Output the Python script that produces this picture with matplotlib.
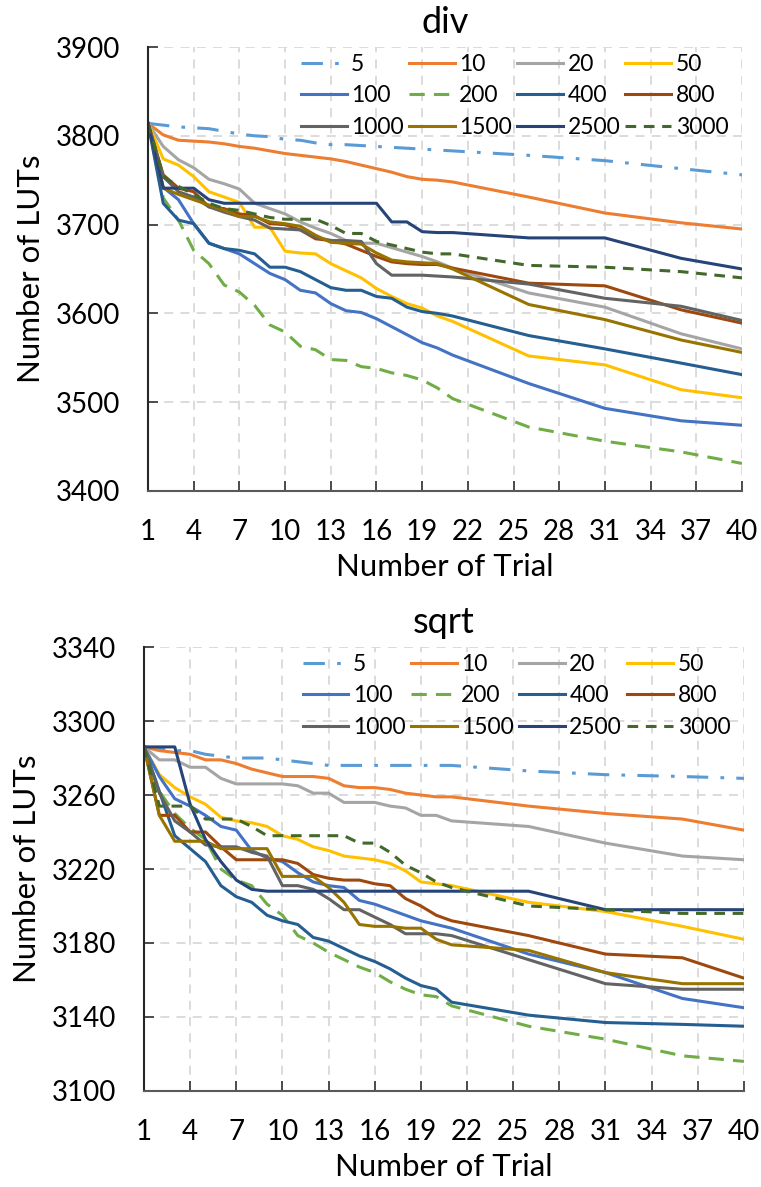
import matplotlib
matplotlib.use("Agg")
import matplotlib.pyplot as plt

plt.rcParams["font.family"] = ["Lato", "DejaVu Sans"]

trials = list(range(1, 22)) + [26, 31, 36, 40]
labels = ["5", "10", "20", "50", "100", "200", "400", "800", "1000", "1500", "2500", "3000"]

# number of LUTs after each trial, one list per setting (div)
div_5 = [3814, 3812, 3810, 3809, 3808, 3805, 3802, 3800, 3799, 3796, 3795, 3792, 3790, 3790, 3789, 3788, 3787, 3786, 3785, 3784, 3783, 3778, 3772, 3763, 3756]
div_10 = [3814, 3801, 3795, 3794, 3793, 3791, 3788, 3786, 3783, 3780, 3778, 3776, 3774, 3771, 3767, 3763, 3759, 3754, 3751, 3750, 3748, 3731, 3713, 3702, 3695]
div_20 = [3814, 3788, 3773, 3764, 3751, 3746, 3740, 3724, 3718, 3712, 3703, 3696, 3690, 3682, 3679, 3679, 3674, 3669, 3664, 3658, 3651, 3623, 3607, 3577, 3560]
div_50 = [3814, 3774, 3767, 3754, 3737, 3731, 3725, 3697, 3697, 3670, 3668, 3667, 3656, 3648, 3640, 3628, 3619, 3611, 3606, 3597, 3591, 3552, 3542, 3514, 3505]
div_100 = [3814, 3742, 3728, 3701, 3679, 3673, 3667, 3656, 3645, 3638, 3626, 3623, 3611, 3603, 3601, 3594, 3585, 3576, 3567, 3561, 3553, 3521, 3493, 3479, 3474]
div_200 = [3814, 3730, 3705, 3671, 3656, 3632, 3624, 3609, 3587, 3579, 3563, 3559, 3548, 3547, 3540, 3538, 3533, 3530, 3525, 3516, 3504, 3472, 3456, 3444, 3431]
div_400 = [3814, 3724, 3705, 3701, 3679, 3673, 3671, 3667, 3652, 3652, 3647, 3638, 3629, 3626, 3626, 3619, 3617, 3607, 3602, 3600, 3597, 3575, 3560, 3544, 3531]
div_800 = [3814, 3756, 3741, 3737, 3720, 3718, 3712, 3710, 3701, 3700, 3694, 3684, 3682, 3678, 3671, 3664, 3658, 3656, 3655, 3655, 3651, 3634, 3631, 3604, 3589]
div_1000 = [3814, 3754, 3737, 3731, 3720, 3714, 3709, 3705, 3696, 3695, 3694, 3686, 3682, 3682, 3681, 3656, 3643, 3643, 3643, 3642, 3641, 3633, 3617, 3608, 3592]
div_1500 = [3814, 3741, 3734, 3728, 3722, 3716, 3709, 3709, 3703, 3701, 3698, 3688, 3680, 3679, 3678, 3668, 3660, 3658, 3657, 3656, 3650, 3610, 3593, 3570, 3556]
div_2500 = [3814, 3741, 3741, 3741, 3728, 3724, 3724, 3724, 3724, 3724, 3724, 3724, 3724, 3724, 3724, 3724, 3703, 3703, 3692, 3691, 3691, 3685, 3685, 3662, 3650]
div_3000 = [3814, 3754, 3743, 3734, 3724, 3718, 3716, 3712, 3708, 3706, 3706, 3706, 3699, 3690, 3690, 3681, 3677, 3673, 3669, 3667, 3667, 3654, 3652, 3647, 3640]

# number of LUTs after each trial (sqrt)
sqrt_5 = [3286, 3285, 3284, 3284, 3282, 3281, 3280, 3280, 3280, 3279, 3278, 3277, 3276, 3276, 3276, 3276, 3276, 3276, 3276, 3276, 3276, 3273, 3271, 3270, 3269]
sqrt_10 = [3286, 3284, 3283, 3282, 3279, 3279, 3277, 3274, 3272, 3270, 3270, 3270, 3269, 3265, 3264, 3264, 3263, 3261, 3260, 3259, 3259, 3254, 3250, 3247, 3241]
sqrt_20 = [3286, 3279, 3279, 3275, 3275, 3269, 3266, 3266, 3266, 3266, 3265, 3261, 3261, 3256, 3256, 3256, 3254, 3253, 3249, 3249, 3246, 3243, 3234, 3227, 3225]
sqrt_50 = [3286, 3271, 3264, 3259, 3255, 3248, 3246, 3245, 3243, 3238, 3236, 3232, 3230, 3227, 3226, 3225, 3223, 3219, 3213, 3212, 3211, 3202, 3197, 3189, 3182]
sqrt_100 = [3286, 3270, 3258, 3254, 3249, 3243, 3241, 3230, 3226, 3224, 3218, 3213, 3211, 3210, 3203, 3201, 3198, 3195, 3192, 3190, 3188, 3174, 3164, 3150, 3145]
sqrt_200 = [3286, 3262, 3250, 3242, 3236, 3220, 3214, 3211, 3201, 3195, 3184, 3180, 3175, 3171, 3167, 3164, 3159, 3155, 3152, 3151, 3146, 3135, 3128, 3119, 3116]
sqrt_400 = [3286, 3262, 3238, 3231, 3224, 3211, 3205, 3202, 3195, 3192, 3190, 3183, 3181, 3177, 3173, 3170, 3166, 3161, 3157, 3155, 3148, 3141, 3137, 3136, 3135]
sqrt_800 = [3286, 3249, 3249, 3240, 3240, 3232, 3225, 3225, 3225, 3225, 3223, 3217, 3215, 3214, 3214, 3212, 3211, 3204, 3200, 3195, 3192, 3184, 3174, 3172, 3161]
sqrt_1000 = [3286, 3261, 3246, 3240, 3233, 3232, 3232, 3229, 3227, 3211, 3211, 3209, 3204, 3198, 3198, 3194, 3190, 3185, 3185, 3185, 3184, 3171, 3158, 3155, 3155]
sqrt_1500 = [3286, 3249, 3235, 3235, 3235, 3231, 3231, 3231, 3231, 3216, 3216, 3216, 3210, 3202, 3190, 3189, 3189, 3188, 3188, 3182, 3179, 3176, 3164, 3158, 3158]
sqrt_2500 = [3286, 3286, 3286, 3255, 3236, 3224, 3214, 3209, 3208, 3208, 3208, 3208, 3208, 3208, 3208, 3208, 3208, 3208, 3208, 3208, 3208, 3208, 3198, 3198, 3198]
sqrt_3000 = [3286, 3254, 3254, 3254, 3247, 3247, 3247, 3243, 3238, 3238, 3238, 3238, 3238, 3238, 3234, 3234, 3229, 3222, 3218, 3213, 3210, 3200, 3198, 3196, 3196]

div_series = [div_5, div_10, div_20, div_50, div_100, div_200, div_400, div_800, div_1000, div_1500, div_2500, div_3000]
sqrt_series = [sqrt_5, sqrt_10, sqrt_20, sqrt_50, sqrt_100, sqrt_200, sqrt_400, sqrt_800, sqrt_1000, sqrt_1500, sqrt_2500, sqrt_3000]

colors = ["#5B9BD5", "#ED7D31", "#A5A5A5", "#FFC000", "#4472C4", "#70AD47",
          "#255E91", "#9E480E", "#636363", "#997300", "#264478", "#43682B"]
styles = [(0, (7, 4, 1.2, 4)), "-", "-", "-", "-", (0, (5, 3)),
          "-", "-", "-", "-", "-", (0, (3.5, 2.5))]


def draw(ax, series, title, yticks):
    handles = []
    for ys, c, ls, lab in zip(series, colors, styles, labels):
        h, = ax.plot(trials, ys, color=c, linestyle=ls, lw=2.2, label=lab)
        handles.append(h)
    ax.set_xlim(1, 40)
    ax.set_xticks(range(1, 41, 3))
    ax.set_ylim(yticks[0], yticks[-1])
    ax.set_yticks(yticks)
    ax.grid(True, color="#D9D9D9", linestyle=(0, (5, 4)), lw=1.3)
    ax.set_axisbelow(True)
    for s in ["top", "right"]:
        ax.spines[s].set_visible(False)
    ax.spines["left"].set_color("#262626")
    ax.spines["bottom"].set_color("#595959")
    ax.spines["left"].set_linewidth(1.5)
    ax.spines["bottom"].set_linewidth(1.5)
    ax.tick_params(direction="in", length=7, width=1.3, color="#404040",
                   labelsize=20, pad=20)
    ax.set_title(title, fontsize=26, pad=10)
    ax.set_xlabel("Number of Trial", fontsize=22.5, labelpad=6)
    ax.set_ylabel("Number of LUTs", fontsize=22.5, labelpad=8)
    # legend filled row by row, 4 per row
    order = [i + 4 * r for i in range(4) for r in range(3)]
    ax.legend([handles[k] for k in order], [labels[k] for k in order],
              ncol=4, frameon=False, fontsize=16.5, loc="upper right",
              bbox_to_anchor=(1.0, 1.015), handlelength=2.0, handletextpad=0.2,
              columnspacing=0.22, labelspacing=0.45, borderaxespad=0.2)


fig = plt.figure(figsize=(7.61, 11.87), dpi=100)
ax1 = fig.add_axes([0.1945, 0.5864, 0.7805, 0.3740])
ax2 = fig.add_axes([0.1892, 0.0809, 0.7884, 0.3740])

draw(ax1, div_series, "div", list(range(3400, 3901, 100)))
draw(ax2, sqrt_series, "sqrt", list(range(3100, 3341, 40)))

fig.savefig("out.png", dpi=100)
